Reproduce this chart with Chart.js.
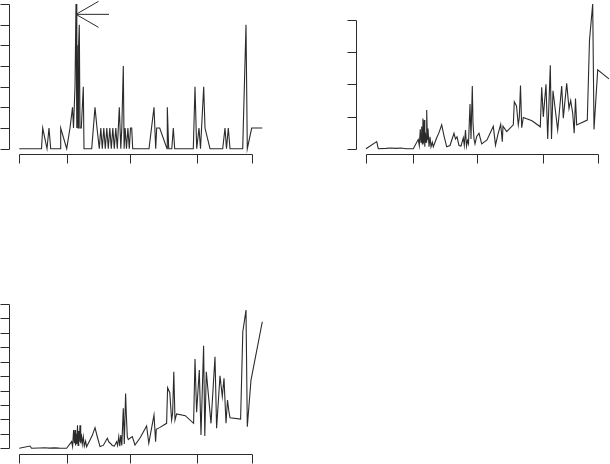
<!DOCTYPE html>
<html lang="en">
<head>
  <meta charset="UTF-8" />
  <title>Three panels</title>
  <script src="https://cdn.jsdelivr.net/npm/chart.js"></script>
  <style>
    body {
      margin: 0;
      background: #fff;
      width: 610px;
      height: 464px;
      position: relative;
      overflow: hidden;
    }
    canvas { position: absolute; }
  </style>
</head>
<body>
  <canvas id="counts" width="300" height="170" style="left:0;top:0"></canvas>
  <canvas id="ratio" width="290" height="170" style="left:320px;top:0"></canvas>
  <canvas id="level" width="300" height="174" style="left:0;top:290px"></canvas>

  <script>
    // shared time axis (ticks only, no labels shown)
    const timeTicks = [0, 47.4, 110.7, 177.4, 232.4];

    // panel 1: counts
    const countT = [0, 22.2, 23.4, 27.7, 29.7, 31.4, 40.7, 41.4, 47.4, 50.7, 53.2, 54.2, 55.7, 56.7, 57.5, 58, 58.7, 59.3, 60, 60.7, 62, 64, 64.7,
      72.4, 75.7, 77.7, 80, 81.5, 83, 84.5, 86, 87.5, 89, 90.5, 92, 93.5, 95, 96.5, 98, 100, 101.5, 102.5, 104, 104.8, 105.8, 107.2, 108.6, 110, 111.2,
      112.4, 113.4, 129.7, 134.7, 136.4, 137.4, 140.4, 147.7, 148, 149.4,
      152.5, 154, 155.4, 174, 175.7, 177.4, 179.7, 181.2, 184.4, 185.7, 190.7, 203.4, 205.7, 207.2, 209, 210.7, 223.4, 226.7, 228, 232.4, 243];
    const countV = [0, 0, 1, 0, 1, 0, 0, 1, 0, 1, 2, 1, 3, 7, 1, 5, 1, 5, 6, 1, 1, 3, 0,
      0, 2, 1, 0, 1, 0, 1, 0, 1, 0, 1, 0, 1, 0, 1, 0, 2, 0, 1, 4, 0, 1, 0, 1, 0, 1,
      1, 0, 0, 2, 0, 1, 1, 0, 2, 0,
      0, 1, 0, 0, 3, 0, 1, 0, 3, 1, 0, 0, 1, 0, 1, 0, 0, 6, 0, 1, 1];
    const countTicks = [0, 1, 2, 3, 4, 5, 6, 7];
    const arrowFrom = [89.7, 6.5];
    const arrowTo = [56.7, 6.5];

    // panels 2 and 3 share the same time points
    const seriesT = [0, 10.7, 12.3, 20, 25, 30, 35, 40, 47.3, 52.3, 53.3, 54.3, 55, 55.7, 56.3, 56.9, 57.5, 58.2, 58.8, 59.4, 60, 60.7, 61.4, 62, 63, 64, 65, 66.3, 67.3,
      70.7, 73, 75.7, 78, 80.7, 84, 88, 89.5, 91, 93, 95, 97.3, 98.3, 99.5, 100.5, 101.5, 102.5, 104, 105, 106.3, 107, 108, 109, 110.7, 113, 115.7, 121,
      127.3, 129.5, 132, 134.7, 136.3, 137, 140.7, 147.3, 148.3, 150.5, 152.3, 153.3, 154.5, 155.7, 157.3, 166, 174.3, 175.7, 177.3, 180, 181.7, 184.3,
      185.5, 187, 191.7, 195.7, 197.3, 200.7, 203, 204.7, 206.7, 208.2, 209.5, 210.7, 221.3, 223.5, 226.7, 228, 231.7, 243];
    const ratioV = [0, 0.22, 0, 0.01, 0.02, 0.01, 0.02, 0, 0, 0.29, 0.1, 0.6, 0.2, 0.69, 0.15, 0.94, 0.17, 0.89, 0.06, 0.5, 0.2, 1.2, 0.27, 0.63, 0.06, 0.37, 0.06, 0.2, 0.06,
      0.34, 0.5, 0.74, 0.4, 0.06, 0.1, 0.48, 0.3, 0.37, 0.1, 0.08, 0.34, 0.1, 0.58, 0.08, 0.25, 0.15, 1.39, 0.3, 1.95, 0.8, 0.3, 0.15, 0.38, 0.48, 0.15, 0.27,
      0.7, 0.11, 0.45, 0.76, 0.22, 0.7, 0.53, 0.74, 1.46, 1.33, 0.74, 0.97, 1.96, 0.65, 0.97, 0.87, 0.68, 1.91, 0.99, 2.0, 0.3, 2.59,
      0.3, 1.8, 0.58, 1.95, 0.95, 2.03, 1.25, 1.5, 1.1, 0.48, 1.56, 0.74, 0.89, 3.38, 4.5, 0.6, 2.45, 2.17];
    const ratioTicks = [0, 1, 2, 3, 4];
    const levelV = [0, 0.16, 0, 0.02, 0.04, 0.01, 0.03, 0.01, 0, 0.46, 0.12, 1.27, 0.35, 1.27, 0.2, 1.0, 0.3, 1.6, 0.2, 1.2, 0.45, 1.6, 0.35, 1.0, 0.3, 0.8, 0.15, 0.5, 0.1,
      0.58, 0.9, 1.43, 0.8, 0.12, 0.2, 0.69, 0.45, 0.35, 0.2, 0.15, 0.46, 0.2, 0.81, 0.15, 0.92, 0.2, 2.77, 0.3, 3.8, 2.4, 0.8, 0.6, 0.7, 0.81, 0.23, 0.75,
      1.55, 0.35, 1.3, 2.3, 0.45, 1.32, 1.45, 1.73, 4.2, 3.85, 1.96, 2.4, 5.3, 1.96, 2.38, 2.26, 1.73, 6.19, 2.5, 5.43, 0.92, 7.1,
      0.85, 5.3, 1.73, 6.35, 1.39, 5.03, 3.58, 4.85, 1.73, 3.35, 2.6, 2.12, 2.03, 8.08, 9.58, 1.5, 4.73, 8.77];
    const levelTicks = [0, 1, 2, 3, 4, 5, 6, 7, 8, 9, 10];

    const ink = '#2b2b2b';

    // R-style axes: line only from first to last tick, ticks pointing outwards
    const rAxes = {
      id: 'rAxes',
      afterDraw(chart, args, opts) {
        const { ctx, chartArea, scales: { x, y } } = chart;
        ctx.save();
        ctx.strokeStyle = ink;
        ctx.lineWidth = 1;
        ctx.beginPath();
        const by = Math.round(chartArea.bottom) + 0.5;
        const xp = opts.xTicks.map(v => Math.round(x.getPixelForValue(v)) + 0.5);
        ctx.moveTo(xp[0], by);
        ctx.lineTo(xp[xp.length - 1], by);
        xp.forEach(p => { ctx.moveTo(p, by); ctx.lineTo(p, by + 9); });
        const lx = Math.round(chartArea.left) + 0.5;
        const yp = opts.yTicks.map(v => Math.round(y.getPixelForValue(v)) + 0.5);
        ctx.moveTo(lx, yp[0]);
        ctx.lineTo(lx, yp[yp.length - 1]);
        yp.forEach(p => { ctx.moveTo(lx, p); ctx.lineTo(lx - 9, p); });
        ctx.stroke();

        if (opts.arrow) {
          const [f, t] = opts.arrow;
          const x0 = x.getPixelForValue(f[0]), y0 = y.getPixelForValue(f[1]);
          const x1 = x.getPixelForValue(t[0]), y1 = y.getPixelForValue(t[1]);
          const a = Math.atan2(y1 - y0, x1 - x0);
          const len = 26, head = Math.PI / 6;
          ctx.beginPath();
          ctx.moveTo(x0, y0);
          ctx.lineTo(x1, y1);
          ctx.moveTo(x1 - len * Math.cos(a - head), y1 - len * Math.sin(a - head));
          ctx.lineTo(x1, y1);
          ctx.lineTo(x1 - len * Math.cos(a + head), y1 - len * Math.sin(a + head));
          ctx.stroke();
        }
        ctx.restore();
      }
    };

    function panel(id, xs, vs, xMin, xMax, yMin, yMax, yTicks, padding, arrow) {
      new Chart(document.getElementById(id), {
        type: 'line',
        data: {
          datasets: [{
            data: xs.map((t, i) => ({ x: t, y: vs[i] })),
            borderColor: ink,
            borderWidth: 1.1,
            pointRadius: 0,
            tension: 0,
            fill: false
          }]
        },
        options: {
          responsive: false,
          animation: false,
          layout: { padding },
          scales: {
            x: { type: 'linear', min: xMin, max: xMax, display: false },
            y: { type: 'linear', min: yMin, max: yMax, display: false }
          },
          plugins: {
            legend: { display: false },
            tooltip: { enabled: false },
            rAxes: { xTicks: timeTicks, yTicks, arrow }
          }
        },
        plugins: [rAxes]
      });
    }

    panel('counts', countT, countV, -10.3, 252.7, -0.256, 7.194, countTicks,
      { left: 9, right: 28, top: 0, bottom: 16 }, [arrowFrom, arrowTo]);
    panel('ratio', seriesT, ratioV, -10, 244, -0.165, 4.622, ratioTicks,
      { left: 36, right: 0, top: 0, bottom: 16 }, null);
    panel('level', seriesT, levelV, -10.3, 252.7, -0.395, 10.97, levelTicks,
      { left: 9, right: 28, top: 0, bottom: 10 }, null);
  </script>
</body>
</html>
